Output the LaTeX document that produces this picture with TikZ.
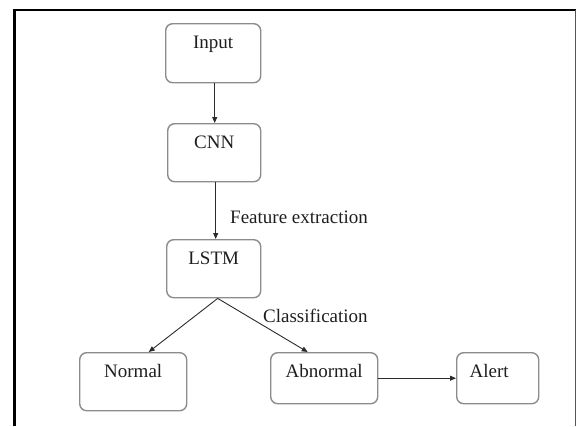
\documentclass[tikz,border=0pt]{standalone}
\usepackage{fontspec}
\setmainfont{Liberation Serif}
\usetikzlibrary{arrows.meta}
\definecolor{boxgray}{HTML}{8C8C8C}
\definecolor{txt}{HTML}{1E1E1E}
\definecolor{arr}{HTML}{2B2B2B}
\definecolor{framegray}{HTML}{555555}
\begin{document}
\begin{tikzpicture}[x=1pt,y=-1pt,
  box/.style={draw=boxgray, line width=1.4pt, rounded corners=7pt, anchor=north west,
    inner xsep=0pt, inner ysep=0pt, text height=25pt, align=center,
    font=\fontsize{19}{22}\selectfont, text=txt},
  conn/.style={draw=arr, line width=0.9pt, -{Triangle[length=6pt,width=5pt]}},
  lbl/.style={anchor=base west, inner sep=0pt, font=\fontsize{19}{22}\selectfont, text=txt}]
\useasboundingbox (0,0) rectangle (577,426);
% frame
\draw[black, line width=2.2pt] (14.5,426) -- (14.5,10) -- (576,10);
\draw[framegray, line width=1.5pt] (575.5,10) -- (575.5,426);
% nodes
\node[box, minimum width=95pt, text depth=34pt] (input) at (165,23) {Input};
\node[box, minimum width=93pt, text depth=33pt] (cnn) at (167,123) {CNN};
\node[box, minimum width=94pt, text depth=33pt] (lstm) at (166,239) {LSTM};
\node[box, minimum width=107pt, text depth=33pt] (normal) at (79,352) {Normal};
\node[box, minimum width=107pt, text depth=26pt] (abnormal) at (270,352) {Abnormal};
\node[box, minimum width=82pt, text depth=26pt, align=left, text width=68pt, inner xsep=7pt] (alert) at (456,352) {\hspace*{6pt}Alert};
% labels
\node[lbl] (fe) at (230,223) {Feature extraction};
\node[lbl] (cl) at (263,322) {Classification};
% connectors
\draw[conn] ([xshift=1.5pt]input.south) -- ([xshift=1.5pt]input.south |- cnn.north);
\draw[conn] ([xshift=1.5pt]cnn.south) -- ([xshift=1.5pt]cnn.south |- lstm.north);
\draw[conn] ([xshift=4pt]lstm.south) -- ([xshift=15.5pt]normal.north);
\draw[conn] ([xshift=4pt]lstm.south) -- ([xshift=-16.5pt]abnormal.north);
\draw[conn] (abnormal.east) -- (alert.west);
\end{tikzpicture}
\end{document}
